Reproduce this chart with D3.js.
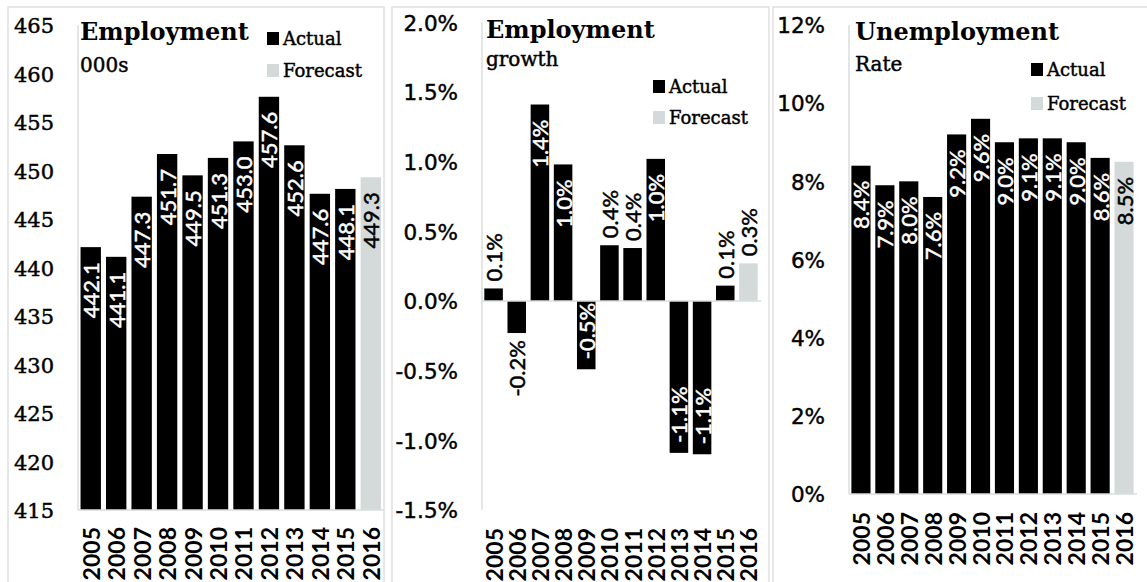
<!DOCTYPE html>
<html>
<head>
<meta charset="utf-8">
<script src="https://cdn.jsdelivr.net/npm/d3@7"></script>
<style>
  html, body { margin: 0; padding: 0; background: #fff; }
  svg { display: block; }
</style>
</head>
<body>
<svg id="chart" width="1147" height="582"></svg>
<script>
// Years shared by all three panels
const years = ["2005","2006","2007","2008","2009","2010","2011","2012","2013","2014","2015","2016"];
const forecastYear = "2016";

// Employment, thousands
const employment = [442.1, 441.1, 447.3, 451.7, 449.5, 451.3, 453.0, 457.6, 452.6, 447.6, 448.1, 449.3];
const employmentTicks = [415, 420, 425, 430, 435, 440, 445, 450, 455, 460, 465];

// Employment growth, % year on year
const growth = [0.09, -0.23, 1.41, 0.98, -0.49, 0.40, 0.38, 1.02, -1.09, -1.10, 0.11, 0.27];
const growthTicks = [-1.5, -1.0, -0.5, 0.0, 0.5, 1.0, 1.5, 2.0];

// Unemployment rate, %
const unemployment = [8.4, 7.9, 8.0, 7.6, 9.2, 9.6, 9.0, 9.1, 9.1, 9.0, 8.6, 8.5];
const unemploymentTicks = [0, 2, 4, 6, 8, 10, 12];

const legendItems = ["Actual", "Forecast"];

const ACTUAL = "#000000";
const FORECAST = "#d4dad9";
const AXIS = "#d9dedd";
const FRAME = "#e0e0e0";
const SERIF = "'DejaVu Serif', serif";
const SANS = "'DejaVu Sans', sans-serif";
const LABEL_FONT = "Lato, 'DejaVu Sans', sans-serif";

// plain hyphen for negatives
const loc = d3.formatLocale({ decimal: ".", thousands: ",", grouping: [3], currency: ["", ""], minus: "-" });
const f1 = loc.format(".1f");
const pct1 = d => f1(d) + "%";

const svg = d3.select("#chart");

// give text a little more weight
function heavy(sel, color, w) {
  return sel.attr("stroke", color).attr("stroke-width", w).attr("paint-order", "stroke");
}

const panels = [
  {
    frame: [8, 7, 376],
    values: employment, ticks: employmentTicks,
    domain: [415, 465], xr: [78, 383.5], yr: [510, 25],
    tickFmt: loc.format("d"), tickFont: SERIF, tickSize: 21, tickX: 54,
    labelFmt: f1,
    title: "Employment", subtitle: "000s", titleX: 80, titleY: 40, subY: 72,
    legend: { x: 267, y: [32, 64] },
    yearGap: 17
  },
  {
    frame: [392, 7, 377],
    values: growth, ticks: growthTicks,
    domain: [-1.5, 2.0], xr: [482, 760], yr: [510, 22.3],
    tickFmt: pct1, tickFont: SANS, tickSize: 21.5, tickX: 458,
    labelFmt: pct1,
    title: "Employment", subtitle: "growth", titleX: 486, titleY: 38, subY: 66,
    legend: { x: 653, y: [80, 111] },
    yearGap: 18
  },
  {
    frame: [773, 7, 500],
    values: unemployment, ticks: unemploymentTicks,
    domain: [0, 12], xr: [849, 1136], yr: [494, 25],
    tickFmt: d => d + "%", tickFont: SANS, tickSize: 21.5, tickX: 825,
    labelFmt: pct1,
    title: "Unemployment", subtitle: "Rate", titleX: 855, titleY: 40, subY: 71,
    legend: { x: 1031, y: [63, 97] },
    yearGap: 18
  }
];

panels.forEach(p => {
  const g = svg.append("g");

  // panel frame (runs past the bottom edge)
  g.append("rect")
    .attr("x", p.frame[0]).attr("y", p.frame[1])
    .attr("width", p.frame[2]).attr("height", 700)
    .attr("fill", "none").attr("stroke", FRAME).attr("stroke-width", 1.5);

  const x = d3.scaleBand().domain(years).range(p.xr).paddingInner(0.2).paddingOuter(0.1);
  const y = d3.scaleLinear().domain(p.domain).range(p.yr);
  const base = y(Math.max(p.domain[0], 0));
  const bottom = y(p.domain[0]);

  // y axis: labels only, plus a light vertical rule
  const yAxis = d3.axisLeft(y).tickValues(p.ticks).tickFormat(p.tickFmt).tickSize(0).tickPadding(0);
  const ya = g.append("g").attr("transform", `translate(${p.tickX},0)`).call(yAxis);
  ya.select(".domain").remove();
  heavy(ya.selectAll("text")
    .attr("font-family", p.tickFont).attr("font-size", p.tickSize).attr("fill", "#000")
    .attr("dy", "0.36em"), "#000", 0.45);

  g.append("line")
    .attr("x1", p.xr[0]).attr("x2", p.xr[0])
    .attr("y1", p.yr[1]).attr("y2", bottom)
    .attr("stroke", AXIS).attr("stroke-width", 1.5);

  // bars
  const data = years.map((yr, i) => ({ year: yr, v: p.values[i] }));
  g.selectAll("rect.bar").data(data).join("rect")
    .attr("class", "bar")
    .attr("x", d => x(d.year))
    .attr("width", x.bandwidth())
    .attr("y", d => Math.min(y(d.v), base))
    .attr("height", d => Math.abs(y(d.v) - base))
    .attr("fill", d => d.year === forecastYear ? FORECAST : ACTUAL);

  // baseline (zero line / floor)
  g.append("line")
    .attr("x1", p.xr[0]).attr("x2", p.xr[1] + 1)
    .attr("y1", base).attr("y2", base)
    .attr("stroke", AXIS).attr("stroke-width", 1.5);

  // value labels, rotated, inside the bar end when they fit
  const labelSize = 22;
  data.forEach(d => {
    const cx = x(d.year) + x.bandwidth() / 2;
    const txt = p.labelFmt(d.v);
    const len = Math.abs(y(d.v) - base);
    const est = txt.length * labelSize * 0.48;
    const inside = len >= est + 14;
    const pos = d.v >= 0;
    const end = y(d.v);
    let ay, anchor;
    if (pos) {
      if (inside) { ay = end + 15; anchor = "end"; }
      else { ay = end - 7; anchor = "start"; }
    } else {
      if (inside) { ay = end - 10; anchor = "start"; }
      else { ay = end + 7; anchor = "end"; }
    }
    const fill = inside ? (d.year === forecastYear ? "#000" : "#fff") : "#000";
    heavy(g.append("text")
      .attr("transform", `translate(${cx},${ay}) rotate(-90)`)
      .attr("text-anchor", anchor)
      .attr("dominant-baseline", "central")
      .attr("font-family", LABEL_FONT).attr("font-size", labelSize)
      .attr("fill", fill)
      .text(txt), fill, 0.5);
  });

  // year labels under the plot
  const xAxis = d3.axisBottom(x).tickSize(0).tickPadding(0);
  const xa = g.append("g").attr("transform", `translate(0,${bottom + p.yearGap})`).call(xAxis);
  xa.select(".domain").remove();
  xa.selectAll("text")
    .attr("transform", "rotate(-90)")
    .attr("text-anchor", "end")
    .attr("dominant-baseline", "central")
    .attr("x", 0).attr("y", 0).attr("dy", null)
    .attr("font-family", "Lato, sans-serif").attr("font-weight", "bold").attr("font-size", 23)
    .attr("fill", "#000");

  // title and subtitle
  g.append("text")
    .attr("x", p.titleX).attr("y", p.titleY)
    .attr("font-family", SERIF).attr("font-weight", "bold").attr("font-size", 24)
    .attr("fill", "#000").text(p.title);
  heavy(g.append("text")
    .attr("x", p.titleX).attr("y", p.subY)
    .attr("font-family", SERIF).attr("font-size", 20)
    .attr("fill", "#000").text(p.subtitle), "#000", 0.45);

  // legend
  legendItems.forEach((name, i) => {
    g.append("rect")
      .attr("x", p.legend.x).attr("y", p.legend.y[i])
      .attr("width", 12).attr("height", 13)
      .attr("fill", i === 0 ? ACTUAL : FORECAST);
    heavy(g.append("text")
      .attr("x", p.legend.x + 16).attr("y", p.legend.y[i] + 13)
      .attr("font-family", SERIF).attr("font-size", 18)
      .attr("fill", "#000").text(name), "#000", 0.45);
  });
});
</script>
</body>
</html>
